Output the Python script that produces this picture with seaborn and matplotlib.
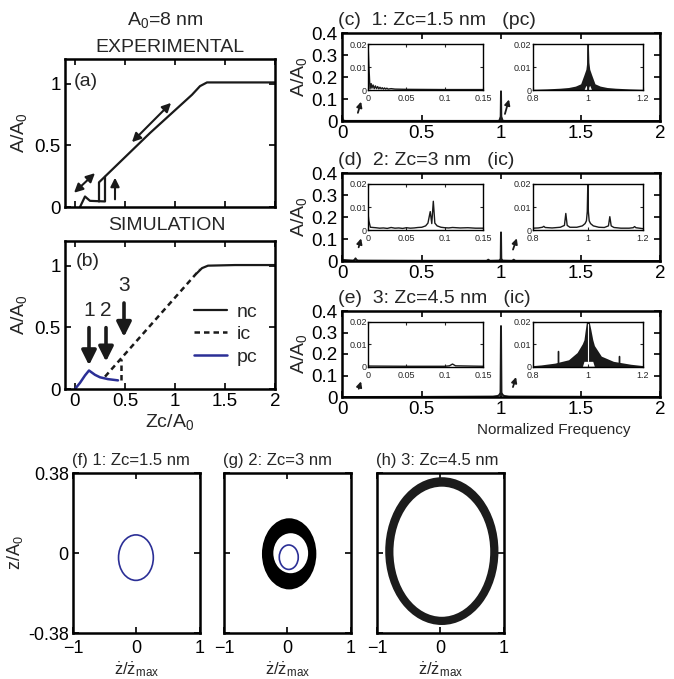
import matplotlib
matplotlib.use("Agg")
import matplotlib.pyplot as plt
from matplotlib.patches import Ellipse
from matplotlib.lines import Line2D
import seaborn as sns

# ---------------- data ----------------
# (a) experimental amplitude curve, A/A0 vs Zc/A0
exp_zc_approach = [0.05, 0.10, 0.15, 0.30, 0.30]
exp_amp_approach = [0.0, 0.085, 0.05, 0.045, 0.245]
exp_zc_retract = [0.24, 0.24, 0.75, 1.17, 1.25, 1.32, 2.0]
exp_amp_retract = [0.045, 0.20, 0.60, 0.91, 0.98, 1.01, 1.01]

# (b) simulation branches
sim_nc_zc = [1.22, 1.27, 1.33, 1.6, 2.0]
sim_nc_amp = [0.94, 0.98, 1.0, 1.005, 1.005]
sim_ic_zc = [0.30, 1.25]
sim_ic_amp = [0.10, 0.97]
sim_ic_jump_zc = [0.46, 0.46]
sim_ic_jump_amp = [0.07, 0.245]
sim_pc_zc = [0.0, 0.05, 0.10, 0.14, 0.20, 0.25, 0.33, 0.43]
sim_pc_amp = [0.0, 0.05, 0.11, 0.15, 0.115, 0.095, 0.08, 0.07]
point_labels = ['1', '2', '3']
point_zc = [0.14, 0.31, 0.49]

# (c) spectrum at Zc=1.5 nm
c_freq = [0.0, 0.005, 0.02, 0.98, 0.99, 0.998, 1.0, 1.002, 1.01, 1.02, 2.0]
c_amp = [0.02, 0.003, 0.0005, 0.0005, 0.002, 0.02, 0.135, 0.02, 0.002, 0.0005, 0.0]
cl_freq = [0, 0.001, 0.0025, 0.004, 0.005, 0.0065, 0.008, 0.0095, 0.011, 0.0125, 0.014, 0.0155,
           0.017, 0.0185, 0.02, 0.0215, 0.023, 0.0245, 0.026, 0.03, 0.035, 0.05, 0.1, 0.15]
cl_amp = [0.02, 0.011, 0.0005, 0.0028, 0.0008, 0.0022, 0.0006, 0.0018, 0.0006, 0.0015, 0.0005, 0.0012,
          0.0005, 0.001, 0.0004, 0.0009, 0.0004, 0.0008, 0.0004, 0.0006, 0.0004, 0.0003, 0.0002, 0.0002]
cr_freq = [0.80, 0.85, 0.90, 0.93, 0.955, 0.974, 0.986, 0.993, 0.996, 0.998, 1.0,
           1.002, 1.004, 1.007, 1.014, 1.026, 1.045, 1.07, 1.10, 1.15, 1.20]
cr_hi = [0.0003, 0.0005, 0.0008, 0.0011, 0.0017, 0.0027, 0.0066, 0.009, 0.012, 0.02, 0.02,
         0.02, 0.012, 0.009, 0.0066, 0.0027, 0.0017, 0.0011, 0.0008, 0.0005, 0.0003]
cr_lo = [0, 0, 0, 0, 0, 0, 0, 0.002, 0.0015, 0, 0,
         0, 0.0015, 0.002, 0, 0, 0, 0, 0, 0, 0]

# (d) spectrum at Zc=3 nm
d_freq = [0, 0.07, 0.08, 0.085, 0.09, 0.1, 0.5, 0.91, 0.92, 0.93, 0.99, 0.998, 1.0, 1.002, 1.01,
          1.07, 1.08, 1.09, 2]
d_amp = [0.005, 0.002, 0.006, 0.012, 0.006, 0.002, 0.001, 0.001, 0.006, 0.001, 0.002, 0.01, 0.13,
         0.01, 0.002, 0.001, 0.006, 0.001, 0.0]
dl_freq = [0, 0.001, 0.003, 0.01, 0.015, 0.02, 0.025, 0.03, 0.035, 0.04, 0.045, 0.05, 0.055, 0.06,
           0.065, 0.07, 0.075, 0.078, 0.081, 0.083, 0.085, 0.087, 0.09, 0.095, 0.1, 0.105, 0.11,
           0.12, 0.13, 0.14, 0.15]
dl_amp = [0.007, 0.004, 0.0012, 0.001, 0.0008, 0.0009, 0.0007, 0.0011, 0.0008, 0.0009, 0.0007,
          0.001, 0.0008, 0.0009, 0.0011, 0.0012, 0.0018, 0.003, 0.008, 0.0028, 0.0125, 0.003,
          0.0018, 0.0012, 0.001, 0.0009, 0.0011, 0.0009, 0.001, 0.0008, 0.0008]
dr_freq = [0.8, 0.82, 0.835, 0.84, 0.845, 0.87, 0.9, 0.915, 0.92, 0.925, 0.935, 0.96, 0.98, 0.99,
           0.995, 0.998, 1.0, 1.002, 1.005, 1.01, 1.02, 1.04, 1.06, 1.075, 1.08, 1.085, 1.095,
           1.12, 1.15, 1.165, 1.17, 1.175, 1.2]
dr_amp = [0.0008, 0.0009, 0.0012, 0.0016, 0.0011, 0.0009, 0.0012, 0.002, 0.0072, 0.002, 0.0012,
          0.0012, 0.0018, 0.0028, 0.004, 0.008, 0.02, 0.008, 0.004, 0.0028, 0.0018, 0.0012, 0.0011,
          0.0018, 0.0058, 0.0018, 0.0011, 0.0008, 0.0008, 0.001, 0.0015, 0.001, 0.0006]

# (e) spectrum at Zc=4.5 nm
e_freq = [0, 0.5, 0.95, 0.98, 0.99, 0.997, 1.0, 1.003, 1.01, 1.02, 1.05, 2]
e_amp = [0.0, 0.0005, 0.002, 0.005, 0.01, 0.02, 0.33, 0.02, 0.01, 0.005, 0.002, 0.0]
el_freq = [0, 0.05, 0.1, 0.106, 0.11, 0.114, 0.15]
el_amp = [0.0003, 0.0002, 0.0002, 0.0004, 0.0012, 0.0004, 0.0002]
er_freq = [0.80, 0.83, 0.88, 0.93, 0.961, 0.98, 0.986, 0.99, 0.995, 1.0,
           1.005, 1.011, 1.018, 1.024, 1.049, 1.093, 1.156, 1.20]
er_hi = [0.0005, 0.0008, 0.0016, 0.0031, 0.0063, 0.0102, 0.012, 0.0157, 0.02, 0.02,
         0.02, 0.0165, 0.012, 0.0094, 0.0047, 0.0024, 0.0011, 0.0005]
er_lo = [0, 0, 0, 0, 0, 0, 0.0024, 0.0024, 0.0024, 0.0024,
         0.0024, 0.0024, 0.0024, 0, 0, 0, 0, 0]
er_spike_freq = [0.892, 0.892, 0.892, 0.917, 0.917, 0.917, 1.112, 1.112, 1.112]
er_spike_amp = [0.0, 0.0071, 0.0, 0.0, 0.0016, 0.0, 0.0, 0.0047, 0.0]

# (f)-(h) phase space orbits: centre x, centre y, semi-axis x, semi-axis y
orbit_f = [-0.005, -0.022, 0.275, 0.108]
orbit_g = [0.024, -0.02, 0.15, 0.058]
ring_g_outer = [0.03, -0.004, 0.43, 0.169]
ring_g_inner = [0.055, -0.001, 0.275, 0.095]
ring_h_outer = [0.025, 0.009, 0.895, 0.351]
ring_h_inner = [0.025, 0.006, 0.765, 0.309]

blue = '#2b2f96'

# ---------------- style ----------------
sns.set_theme(style="ticks")
plt.rcParams['font.family'] = ['Liberation Sans', 'DejaVu Sans']
plt.rcParams['mathtext.fontset'] = 'custom'
plt.rcParams['mathtext.rm'] = 'Liberation Sans'
plt.rcParams['mathtext.it'] = 'Liberation Sans:italic'
plt.rcParams['axes.linewidth'] = 1.8
plt.rcParams['axes.edgecolor'] = 'black'

fig = plt.figure(figsize=(6.74, 6.79), dpi=100)
W, H = 674.0, 679.0


def px_axes(x0, y0, x1, y1):
    return fig.add_axes([x0 / W, 1 - y1 / H, (x1 - x0) / W, (y1 - y0) / H])


def box(ax, fs=13.5, length=4):
    ax.tick_params(direction='in', top=True, right=True, length=length, width=1.2,
                   labelsize=fs, pad=3, colors='black')
    for s in ax.spines.values():
        s.set_visible(True)
        s.set_color('black')


def line(ax, x, y, **kw):
    sns.lineplot(x=x, y=y, ax=ax, sort=False, estimator=None, **kw)


A0 = r'A$\mathregular{_0}$'
head = dict(color='k', lw=1.5, mutation_scale=13)

# ---------------- (a) ----------------
ax_a = px_axes(65, 59, 275, 207)
line(ax_a, exp_zc_approach, exp_amp_approach, color='k', lw=1.6)
line(ax_a, exp_zc_retract, exp_amp_retract, color='k', lw=1.6)
ax_a.annotate('', xy=(-0.03, 0.10), xytext=(0.22, 0.29), arrowprops=dict(arrowstyle='<|-|>', **head))
ax_a.annotate('', xy=(0.55, 0.51), xytext=(0.98, 0.86), arrowprops=dict(arrowstyle='<|-|>', **head))
ax_a.annotate('', xy=(0.40, 0.26), xytext=(0.40, 0.04), arrowprops=dict(arrowstyle='-|>', **head))
ax_a.set_xlim(-0.1, 2)
ax_a.set_ylim(0, 1.2)
ax_a.set_xticks([0, 0.5, 1, 1.5, 2])
ax_a.set_xticklabels([])
ax_a.set_yticks([0, 0.5, 1])
ax_a.set_yticklabels(['0', '0.5', '1'])
ax_a.set_ylabel('A/' + A0, fontsize=14, labelpad=4)
box(ax_a)
ax_a.text(0.04, 0.85, '(a)', transform=ax_a.transAxes, fontsize=14, va='center')
fig.text(165 / W, 1 - 20 / H, A0 + '=8 nm', fontsize=14, ha='center', va='center')
fig.text(170 / W, 1 - 47 / H, 'EXPERIMENTAL', fontsize=14, ha='center', va='center')

# ---------------- (b) ----------------
ax_b = px_axes(65, 241, 275, 389)
line(ax_b, sim_nc_zc, sim_nc_amp, color='k', lw=1.6)
line(ax_b, sim_ic_zc, sim_ic_amp, color='k', lw=1.8, dashes=(2.2, 1.6))
line(ax_b, sim_ic_jump_zc, sim_ic_jump_amp, color='k', lw=1.8, dashes=(2.2, 1.6))
line(ax_b, sim_pc_zc, sim_pc_amp, color=blue, lw=1.8)
tops = [0.52, 0.52, 0.72]
tips = [0.17, 0.20, 0.40]
for lab, zc, t0, t1 in zip(point_labels, point_zc, tops, tips):
    ax_b.annotate('', xy=(zc, t1), xytext=(zc, t0),
                  arrowprops=dict(arrowstyle='-|>', color='k', lw=2.6, mutation_scale=22))
    ax_b.text(zc, t0 + 0.12, lab, fontsize=15, ha='center', va='center')
ax_b.set_xlim(-0.1, 2)
ax_b.set_ylim(0, 1.2)
ax_b.set_xticks([0, 0.5, 1, 1.5, 2])
ax_b.set_xticklabels(['0', '0.5', '1', '1.5', '2'])
ax_b.set_yticks([0, 0.5, 1])
ax_b.set_yticklabels(['0', '0.5', '1'])
ax_b.set_ylabel('A/' + A0, fontsize=14, labelpad=4)
ax_b.set_xlabel('Zc/' + A0, fontsize=14, labelpad=1)
box(ax_b)
ax_b.text(0.05, 0.86, '(b)', transform=ax_b.transAxes, fontsize=14, va='center')
handles = [Line2D([], [], color='k', lw=1.6),
           Line2D([], [], color='k', lw=1.8, dashes=(2.2, 1.6)),
           Line2D([], [], color=blue, lw=1.8)]
ax_b.legend(handles, ['nc', 'ic', 'pc'], loc='center left', bbox_to_anchor=(0.53, 0.37),
            frameon=False, fontsize=14, handlelength=1.7, handletextpad=0.5, labelspacing=0.25)
fig.text(167 / W, 1 - 226 / H, 'SIMULATION', fontsize=14, ha='center', va='center')


# ---------------- (c)-(e) ----------------
def spectrum_panel(y0, y1, title, freq, amp, arrows):
    ax = px_axes(342, y0, 660, y1)
    line(ax, freq, amp, color='k', lw=1.4)
    ax.set_xlim(0, 2)
    ax.set_ylim(0, 0.4)
    ax.set_xticks([0, 0.5, 1, 1.5, 2])
    ax.set_xticklabels(['0', '0.5', '1', '1.5', '2'])
    ax.set_yticks([0, 0.1, 0.2, 0.3, 0.4])
    ax.set_yticklabels(['0', '0.1', '0.2', '0.3', '0.4'])
    ax.set_ylabel('A/' + A0, fontsize=14, labelpad=2)
    box(ax, fs=13.5)
    ax.text(-0.012, 1.05, title, transform=ax.transAxes, fontsize=14, ha='left', va='bottom')
    for (tx, ty, hx, hy) in arrows:
        ax.annotate('', xy=(hx, hy), xytext=(tx, ty),
                    arrowprops=dict(arrowstyle='-|>', color='k', lw=1.3, mutation_scale=8))
    left = ax.inset_axes([0.082, 0.352, 0.362, 0.523])
    right = ax.inset_axes([0.60, 0.352, 0.346, 0.523])
    for ins, xl, xt, xtl in [(left, (0, 0.15), [0, 0.05, 0.1, 0.15], ['0', '0.05', '0.1', '0.15']),
                             (right, (0.8, 1.2), [0.8, 1, 1.2], ['0.8', '1', '1.2'])]:
        ins.set_xlim(*xl)
        ins.set_ylim(0, 0.02)
        ins.set_xticks(xt)
        ins.set_xticklabels(xtl)
        ins.set_yticks([0, 0.01, 0.02])
        ins.set_yticklabels(['0', '0.01', '0.02'])
        ins.tick_params(direction='in', top=True, right=True, length=2, width=0.8,
                        labelsize=6.5, pad=1)
        ins.tick_params(axis='x', pad=3)
        for s in ins.spines.values():
            s.set_linewidth(1.0)
            s.set_color('black')
        ins.set_xlabel('')
        ins.set_ylabel('')
    return ax, left, right


ax_c, cL, cR = spectrum_panel(33, 121, '(c)  1: Zc=1.5 nm   (pc)', c_freq, c_amp,
                              [(0.095, 0.025, 0.125, 0.10), (1.02, 0.02, 1.055, 0.11)])
line(cL, cl_freq, cl_amp, color='k', lw=1.0)
cR.fill_between(cr_freq, cr_lo, cr_hi, color='k', lw=0)
line(cR, [1.0, 1.0], [0.0, 0.02], color='k', lw=1.2)

ax_d, dL, dR = spectrum_panel(173, 261, '(d)  2: Zc=3 nm   (ic)', d_freq, d_amp,
                              [(0.10, 0.05, 0.125, 0.115), (1.07, 0.04, 1.105, 0.115)])
line(dL, dl_freq, dl_amp, color='k', lw=1.0)
line(dR, dr_freq, dr_amp, color='k', lw=1.0)

ax_e, eL, eR = spectrum_panel(311, 397, '(e)  3: Zc=4.5 nm   (ic)', e_freq, e_amp,
                              [(0.10, 0.026, 0.125, 0.085), (1.07, 0.034, 1.10, 0.105)])
line(eL, el_freq, el_amp, color='k', lw=1.0)
eR.fill_between(er_freq, er_lo, er_hi, color='k', lw=0)
line(eR, er_spike_freq, er_spike_amp, color='k', lw=1.0)
line(eR, [1.0, 1.0], [0.0024, 0.019], color='white', lw=0.8)
ax_e.set_xlabel('Normalized Frequency', fontsize=11)
ax_e.xaxis.set_label_coords(0.667, -0.30)


# ---------------- (f)-(h) ----------------
def orbit_panel(x0, title, show_y):
    ax = px_axes(x0, 473, x0 + 126.5, 633)
    ax.set_xlim(-1, 1)
    ax.set_ylim(-0.38, 0.38)
    ax.set_xticks([-1, 0, 1])
    ax.set_xticklabels(['\u22121', '0', '1'])
    ax.set_yticks([-0.38, 0, 0.38])
    if show_y:
        ax.set_yticklabels(['-0.38', '0', '0.38'])
        ax.set_ylabel('z/' + A0, fontsize=13, labelpad=2)
    else:
        ax.set_yticklabels([])
    ax.set_xlabel(r'$\mathregular{\dot{z}/\dot{z}_{max}}$', fontsize=12, labelpad=2)
    box(ax, fs=13)
    ax.tick_params(axis='x', pad=5)
    ax.set_title(title, fontsize=12, loc='left', x=-0.01, pad=6)
    return ax


def ellipse(ax, p, **kw):
    ax.add_patch(Ellipse((p[0], p[1]), 2 * p[2], 2 * p[3], **kw))


ax_f = orbit_panel(73, '(f) 1: Zc=1.5 nm', True)
ellipse(ax_f, orbit_f, fill=False, edgecolor=blue, lw=1.2)

ax_g = orbit_panel(224, '(g) 2: Zc=3 nm', False)
ellipse(ax_g, ring_g_outer, facecolor='black', edgecolor='none')
ellipse(ax_g, ring_g_inner, facecolor='white', edgecolor='none')
ellipse(ax_g, orbit_g, fill=False, edgecolor=blue, lw=1.2)

ax_h = orbit_panel(377, '(h) 3: Zc=4.5 nm', False)
ellipse(ax_h, ring_h_outer, facecolor='#1c1c1c', edgecolor='none')
ellipse(ax_h, ring_h_inner, facecolor='white', edgecolor='none')

fig.savefig('out.png', dpi=100)
